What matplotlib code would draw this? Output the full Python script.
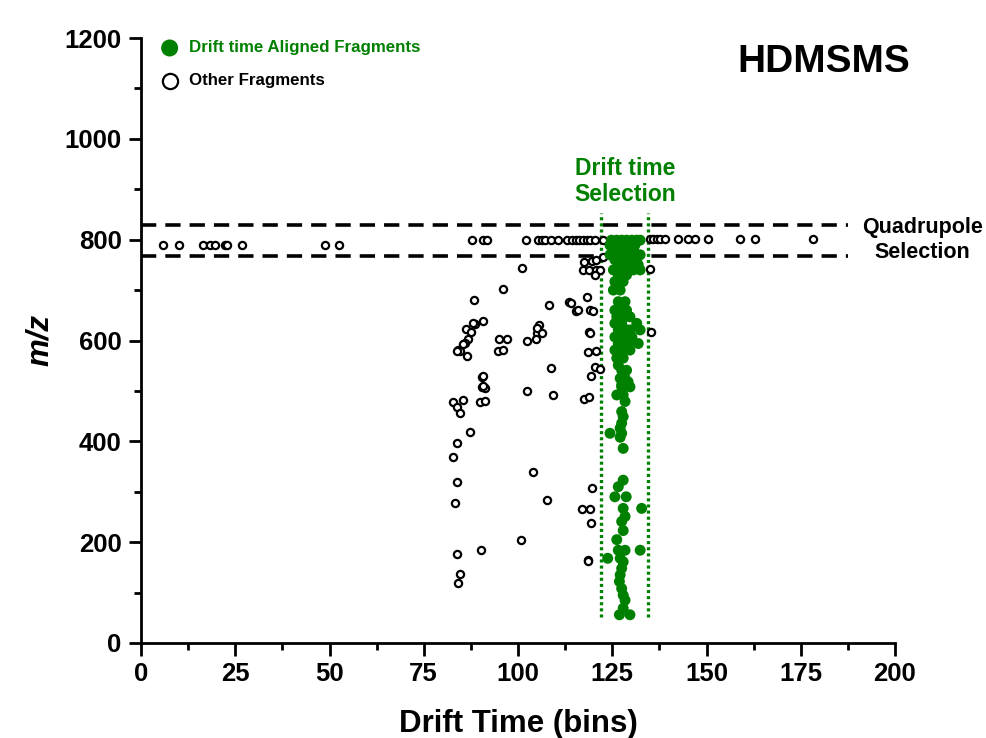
import matplotlib
matplotlib.use("Agg")
import matplotlib.pyplot as plt
from matplotlib.ticker import MultipleLocator

plt.rcParams['font.family'] = ['Liberation Sans', 'DejaVu Sans']
plt.rcParams['lines.scale_dashes'] = False

GREEN = '#008000'

# Other fragments (drift time bins, m/z)
other_x = [5.9, 10.1, 16.5, 18.3, 19.6, 22.3, 22.9, 26.7, 48.8, 52.6,
           87.8, 90.7, 91.8, 102.1, 105.3, 106.4, 107.2, 108.8, 110.6, 113.0, 114.3,
           115.4, 116.2, 117.2, 118.3, 119.1, 120.4, 122.5,
           135.0, 135.9, 136.8, 137.7, 139.0, 142.5, 145.2, 147.0, 150.5, 158.9, 162.9, 178.3,
           122.6, 135.0, 117.5, 119.7, 120.6, 117.2, 118.9, 120.6, 121.8, 120.4, 101.1,
           95.9, 88.2, 108.3, 113.6, 114.0, 118.2, 115.3, 116.0, 119.1, 119.8,
           90.8, 88.6, 88.0, 86.2, 87.5, 86.8, 85.9, 85.5, 84.2, 84.6, 83.7, 86.6,
           95.0, 97.2, 94.8, 95.9, 102.3, 105.0, 105.6, 105.1, 106.4, 104.8,
           118.9, 119.1, 135.4, 118.5, 120.6, 108.8, 120.4, 121.8, 119.4,
           90.4, 90.6, 90.4, 91.2, 90.8, 102.3, 109.4, 117.6, 118.9, 89.9, 91.2,
           82.7, 85.5, 83.7, 84.6, 87.3, 83.7, 82.8, 103.9, 83.9, 119.5, 83.2, 107.6,
           116.9, 119.1, 119.3, 100.7, 83.7, 90.1, 118.5, 118.7, 84.6, 84.2]
other_y = [790, 790, 790, 790, 790, 790, 790, 790, 790, 790,
           799, 799, 799, 799, 799, 799, 799, 799, 799, 799, 799,
           799, 799, 799, 799, 799, 799, 799,
           801, 801, 801, 801, 801, 801, 801, 801, 801, 801, 801, 801,
           765, 742, 755, 757, 759, 739, 740, 740, 739, 729, 743,
           702, 680, 670, 676, 674, 687, 658, 660, 660, 658,
           639, 633, 634, 623, 616, 603, 596, 594, 581, 579, 580, 569,
           602, 602, 579, 581, 599, 614, 631, 624, 614, 602,
           617, 614, 617, 578, 580, 546, 547, 543, 530,
           528, 529, 508, 505, 510, 500, 491, 484, 487, 479, 480,
           479, 482, 469, 456, 419, 397, 368, 339, 319, 308, 278, 284,
           265, 265, 239, 204, 177, 184, 164, 163, 136, 120]

# Drift time aligned fragments
aligned_x = [124.8, 126.2, 127.5, 128.8, 130.2, 131.5, 132.4,
             124.4, 126.6, 128.4, 129.7, 131.0,
             125.3, 127.5, 129.2, 130.6,
             124.4, 127.0, 128.8, 132.4,
             125.7, 127.9, 130.2, 131.5,
             126.6, 129.2, 131.9,
             125.3, 127.9, 130.6, 132.4,
             126.6, 128.8, 125.7, 127.9, 125.3, 127.1, 126.6, 128.4,
             125.7, 127.5, 128.8, 126.2, 129.7, 128.4, 125.7, 127.5, 131.5,
             126.6, 128.8, 129.7, 132.4, 125.7, 127.9, 130.2, 126.6, 129.2, 131.9,
             125.7, 127.5, 129.7, 126.2, 127.9, 126.6, 127.5, 128.8, 127.1, 128.4, 127.5,
             127.9, 129.2, 127.5, 129.7, 126.2, 127.9, 128.4, 127.5, 127.9, 127.5, 127.1,
             124.4, 127.5, 127.1, 127.9,
             127.9, 126.6, 125.7, 128.7, 127.9, 132.8, 128.4, 127.5, 127.9, 126.2,
             126.6, 128.4, 132.4, 123.8, 127.1, 127.9, 127.5, 127.1, 126.9, 127.5,
             127.9, 128.4, 127.9, 126.9, 129.7]
aligned_y = [799, 799, 799, 799, 799, 799, 799,
             789, 789, 789, 789, 789,
             779, 779, 779, 779,
             770, 770, 770, 770,
             760, 760, 760, 760,
             750, 750, 750,
             740, 740, 740, 740,
             730, 730, 717, 717, 700, 700, 677, 677,
             660, 660, 660, 647, 647, 647, 634, 634, 634,
             621, 621, 621, 621, 607, 607, 607, 594, 594, 594,
             581, 581, 581, 565, 565, 551, 541, 541, 525, 525, 512,
             518, 518, 508, 508, 492, 492, 479, 459, 449, 436, 426,
             416, 416, 408, 386,
             323, 310, 290, 290, 267, 267, 251, 241, 223, 205,
             184, 184, 184, 168, 168, 161, 148, 135, 122, 108,
             95, 85, 69, 56, 56]

# Selection windows
quad_window = [768, 830]
drift_window = [122, 134.5]
drift_span = [52, 853]
quad_span = [0, 187.5]

x_ticks = [0, 25, 50, 75, 100, 125, 150, 175, 200]
y_ticks = [0, 200, 400, 600, 800, 1000, 1200]

fig = plt.figure(figsize=(9.86, 7.38), dpi=100)
ax = fig.add_axes([141/986, 95/738, 754/986, 605/738])

# Quadrupole selection dashed lines
for yv in quad_window:
    ax.plot(quad_span, [yv, yv], color='black', lw=2.6, dashes=(11, 6.5), zorder=2)

# Drift time selection dotted lines
for xv in drift_window:
    ax.plot([xv, xv], drift_span, color=GREEN, lw=2.4, dashes=(2.2, 2.2), zorder=2)

ax.scatter(other_x, other_y, s=27, facecolors='white', edgecolors='black',
           linewidths=1.6, zorder=3)
ax.scatter(aligned_x, aligned_y, s=62, color=GREEN, edgecolors='none', zorder=4)

ax.set_xlim(0, 200)
ax.set_ylim(0, 1200)
ax.set_xticks(x_ticks)
ax.set_yticks(y_ticks)
ax.xaxis.set_minor_locator(MultipleLocator(12.5))
ax.yaxis.set_minor_locator(MultipleLocator(100))
for s in ['top', 'right']:
    ax.spines[s].set_visible(False)
for s in ['left', 'bottom']:
    ax.spines[s].set_linewidth(2)
ax.tick_params(which='major', direction='out', length=9, width=2, pad=5,
               labelsize=18.5)
ax.tick_params(which='minor', direction='out', length=5, width=2)
for lab in ax.get_xticklabels() + ax.get_yticklabels():
    lab.set_fontweight('bold')

ax.set_xlabel('Drift Time (bins)', fontsize=22.5, fontweight='bold', labelpad=16)
ax.set_ylabel('m/z', fontsize=22.5, fontweight='bold', style='italic')
ax.yaxis.set_label_coords(-0.114, 0.50)

# Annotations
ax.text(128.3, 915, 'Drift time\nSelection', color=GREEN, fontsize=16.5,
        fontweight='bold', ha='center', va='center', linespacing=1.2)
ax.text(207.3, 800, 'Quadrupole\nSelection', color='black', fontsize=15.5,
        fontweight='bold', ha='center', va='center', linespacing=1.25,
        clip_on=False)
ax.text(0.905, 0.961, 'HDMSMS', transform=ax.transAxes, fontsize=28,
        fontweight='bold', ha='center', va='center')

# Legend (manual)
ax.scatter([0.038], [0.9835], transform=ax.transAxes, s=150, color=GREEN,
           edgecolors='none', clip_on=False)
ax.text(0.064, 0.9835, 'Drift time Aligned Fragments', transform=ax.transAxes,
        color=GREEN, fontsize=12.2, fontweight='bold', va='center', ha='left')
ax.scatter([0.038], [0.929], transform=ax.transAxes, s=120, facecolors='white',
           edgecolors='black', linewidths=1.6, clip_on=False)
ax.text(0.064, 0.929, 'Other Fragments', transform=ax.transAxes,
        color='black', fontsize=12.2, fontweight='bold', va='center', ha='left')

fig.savefig('out.png', dpi=100)
